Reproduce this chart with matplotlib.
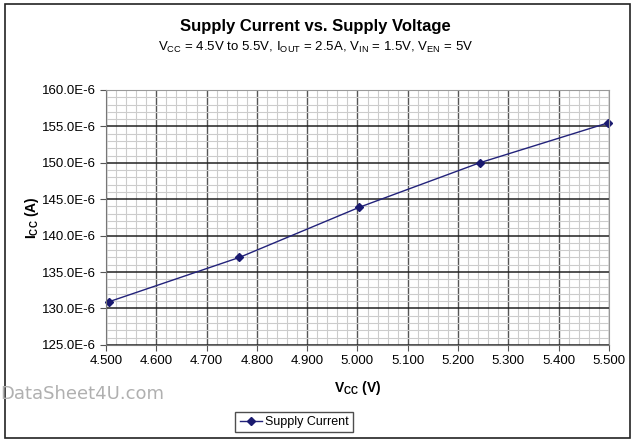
import matplotlib
matplotlib.use("Agg")
import matplotlib.pyplot as plt
from matplotlib.ticker import MultipleLocator, FuncFormatter
from matplotlib.patches import Rectangle

vcc = [4.505, 4.765, 5.004, 5.243, 5.499]
icc = [130.9e-6, 137.0e-6, 143.9e-6, 150.0e-6, 155.5e-6]
series_name = "Supply Current"
xticks = [4.5, 4.6, 4.7, 4.8, 4.9, 5.0, 5.1, 5.2, 5.3, 5.4, 5.5]
yticks = [125e-6, 130e-6, 135e-6, 140e-6, 145e-6, 150e-6, 155e-6, 160e-6]

plt.rcParams['font.family'] = ['Liberation Sans', 'DejaVu Sans']

fig = plt.figure(figsize=(6.31, 4.41), dpi=100)
ax = fig.add_axes([0.168, 0.218, 0.797, 0.578])

# outer chart border
fig.patches.append(Rectangle((0.008, 0.007), 0.99, 0.985, transform=fig.transFigure,
                             fill=False, edgecolor='#222222', linewidth=1.2))

ax.set_xlim(4.5, 5.5)
ax.set_ylim(125e-6, 160e-6)
ax.set_xticks(xticks)
ax.set_yticks(yticks)
ax.xaxis.set_minor_locator(MultipleLocator(0.02))
ax.yaxis.set_minor_locator(MultipleLocator(1e-6))
ax.xaxis.set_major_formatter(FuncFormatter(lambda v, p: f"{v:.3f}"))
ax.yaxis.set_major_formatter(FuncFormatter(lambda v, p: f"{v*1e6:.1f}E-6"))

ax.grid(which='minor', color='#cccccc', linewidth=0.8)
ax.xaxis.grid(True, which='major', color='#555555', linewidth=1.0)
ax.yaxis.grid(True, which='major', color='#222222', linewidth=1.1)
ax.set_axisbelow(True)

for s in ['top', 'right']:
    ax.spines[s].set_color('#999999')
for s in ['left', 'bottom']:
    ax.spines[s].set_color('#777777')
ax.tick_params(which='major', direction='out', length=4, color='#555555', labelsize=9.5, pad=3)
ax.tick_params(which='minor', length=0)

ax.plot(vcc, icc, color='#22227a', linewidth=1.0, marker='D', markersize=4,
        markerfacecolor='#1a1a70', markeredgecolor='#1a1a70', label=series_name, clip_on=False)

ax.set_xlabel(r"V$_{\mathregular{CC}}$ (V)", fontsize=10, fontweight='bold', labelpad=9)
ax.set_ylabel(r"I$_{\mathregular{CC}}$ (A)", fontsize=10, fontweight='bold', labelpad=1)

fig.text(0.5, 0.94, "Supply Current vs. Supply Voltage", ha='center', va='center',
         fontsize=12, fontweight='bold')
fig.text(0.5, 0.893,
         r"V$_{\mathregular{CC}}$ = 4.5V to 5.5V, I$_{\mathregular{OUT}}$ = 2.5A, "
         r"V$_{\mathregular{IN}}$ = 1.5V, V$_{\mathregular{EN}}$ = 5V",
         ha='center', va='center', fontsize=9.5)

fig.text(0.0, 0.107, "DataSheet4U.com", ha='left', va='center', fontsize=13,
         color='#b0b0b0', family=['DejaVu Sans'])

leg = fig.legend(loc='center', bbox_to_anchor=(0.466, 0.043), frameon=True, fancybox=False,
                 edgecolor='#222222', fontsize=9, handlelength=1.8, borderpad=0.35,
                 handletextpad=0.2, borderaxespad=0.0)
leg.get_frame().set_linewidth(1.0)

fig.savefig("out.png", dpi=100)
